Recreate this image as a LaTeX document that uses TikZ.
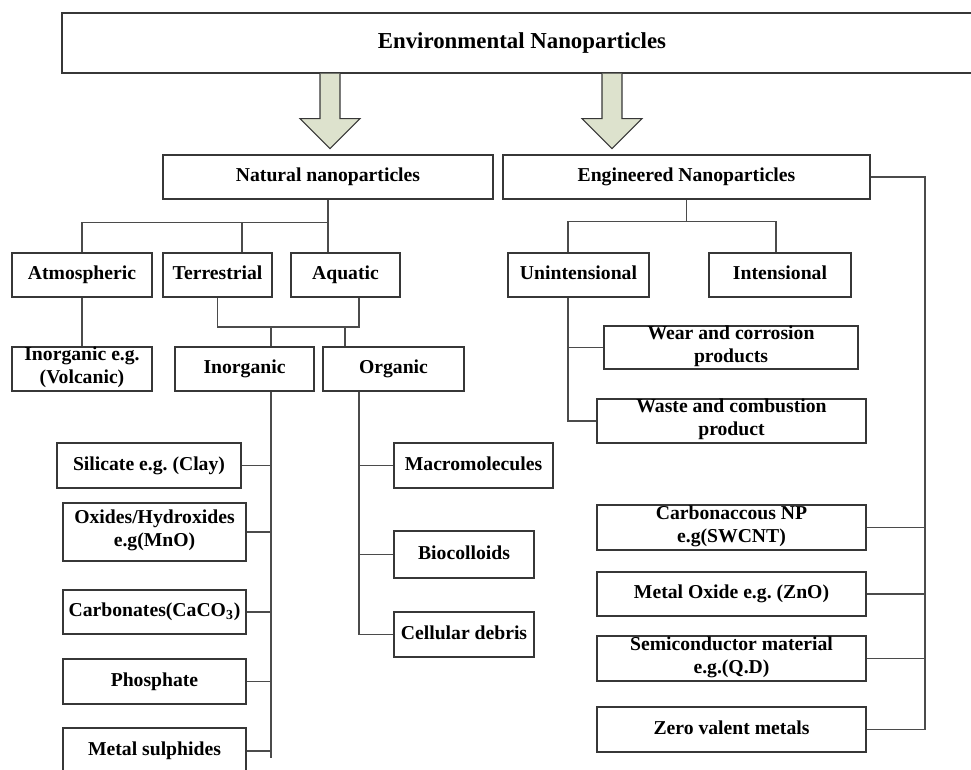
\documentclass[tikz,border=0pt]{standalone}
\usepackage{fontspec}
\setmainfont{Liberation Serif}
\definecolor{arrowfill}{RGB}{221,226,205}
\definecolor{boxline}{RGB}{55,55,55}
\definecolor{linkline}{RGB}{75,75,75}

\begin{document}
\begin{tikzpicture}[x=0.02cm, y=-0.02cm, font=\bfseries\fontsize{11.2}{13}\selectfont,
  box/.style 2 args={draw=boxline, line width=0.8pt, inner sep=0pt, align=center,
    minimum width=#1*0.02cm, minimum height=#2*0.02cm, execute at begin node=\strut},
  link/.style={draw=linkline, line width=0.6pt},
  fatarrow/.style={draw=boxline, line width=0.6pt, fill=arrowfill}]
  \useasboundingbox (0,0) rectangle (971,769);
  \clip (0,0) rectangle (971,769);

  \node[box={920}{60}, font=\bfseries\fontsize{13}{15}\selectfont] (env) at (522,43) {Environmental Nanoparticles};
  \draw[fatarrow] (env.south -| 320,0) -- ++(0,45) -- ++(-20,0) -- ++(30,30) -- ++(30,-30) -- ++(-20,0) -- ++(0,-45);
  \draw[fatarrow] (env.south -| 602,0) -- ++(0,45) -- ++(-20,0) -- ++(30,30) -- ++(30,-30) -- ++(-20,0) -- ++(0,-45);

  \node[box={330}{44}] (nat) at (328,177) {Natural nanoparticles};
  \node[box={367}{44}] (eng) at (686.5,177) {Engineered Nanoparticles};

  \node[box={140}{44}] (atm) at (82,275) {Atmospheric};
  \node[box={109}{44}] (ter) at (217.5,275) {Terrestrial};
  \node[box={109}{44}] (aqu) at (345.5,275) {Aquatic};
  \node[box={141}{44}] (unint) at (578.5,275) {Unintensional};
  \node[box={142}{44}] (int) at (780,275) {Intensional};

  \node[box={140}{44}] (volc) at (82,369) {Inorganic e.g.\\(Volcanic)};
  \node[box={139}{44}] (inorg) at (244.5,369) {Inorganic};
  \node[box={141}{44}] (org) at (393.5,369) {Organic};
  \node[box={254}{43}] (wear) at (731,347.5) {Wear and corrosion\\products};
  \node[box={269}{44}] (waste) at (731.5,421) {Waste and combustion\\product};

  \node[box={184}{45}] (sil) at (149,465.5) {Silicate e.g.\ (Clay)};
  \node[box={183}{58}] (oxi) at (154.5,532) {Oxides/Hydroxides\\e.g(MnO)};
  \node[box={183}{44}] (carb) at (154.5,612) {Carbonates(CaCO\textsubscript{3})};
  \node[box={183}{45}] (phos) at (154.5,681.5) {Phosphate};
  \node[box={183}{46}] (sulf) at (154.5,751) {Metal sulphides};

  \node[box={159}{45}] (macro) at (473.5,465.5) {Macromolecules};
  \node[box={140}{47}] (bio) at (464,554.5) {Biocolloids};
  \node[box={140}{45}] (cell) at (464,634.5) {Cellular debris};

  \node[box={269}{45}] (cnp) at (731.5,527.5) {Carbonaccous NP\\e.g(SWCNT)};
  \node[box={269}{44}] (mox) at (731.5,594) {Metal Oxide e.g.\ (ZnO)};
  \node[box={269}{45}] (semi) at (731.5,658.5) {Semiconductor material\\e.g.(Q.D)};
  \node[box={269}{45}] (zero) at (731.5,729.5) {Zero valent metals};

  \draw[link] (nat.south) -- ++(0,23) coordinate (natj);
  \draw[link] (atm.north) |- (natj);
  \draw[link] (ter.north -| 242,0) |- (natj);
  \draw[link] (aqu.north -| natj) -- (natj);
  \draw[link] (atm) -- (volc);
  \draw[link] (ter.south) -- (ter.south |- 0,327) -| (aqu.south -| 359,0);
  \draw[link] (inorg.north -| 271,0) -- ++(0,-20);
  \draw[link] (org.north -| 345,0) -- ++(0,-20);

  \draw[link] (inorg.south -| 271,0) -- (271,758) coordinate (ispine);
  \foreach \n in {sil,oxi,carb,phos,sulf}
    \draw[link] (\n.east) -- (\n.east -| ispine);
  \draw[link] (org.south -| 359,0) |- (cell.west);
  \foreach \n in {macro,bio}
    \draw[link] (\n.west) -- (\n.west -| 359,0);

  \draw[link] (eng.south) -- ++(0,22) coordinate (engj);
  \draw[link] (unint.north -| 568,0) |- (engj);
  \draw[link] (int.north -| 776,0) |- (engj);
  \draw[link] (unint.south -| 568,0) |- (waste.west);
  \draw[link] (wear.west) -- (wear.west -| 568,0);

  \coordinate (espine) at (925,0);
  \draw[link] (eng.east) -| (zero.east -| espine);
  \foreach \n in {cnp,mox,semi,zero}
    \draw[link] (\n.east) -- (\n.east -| espine);
\end{tikzpicture}
\end{document}
